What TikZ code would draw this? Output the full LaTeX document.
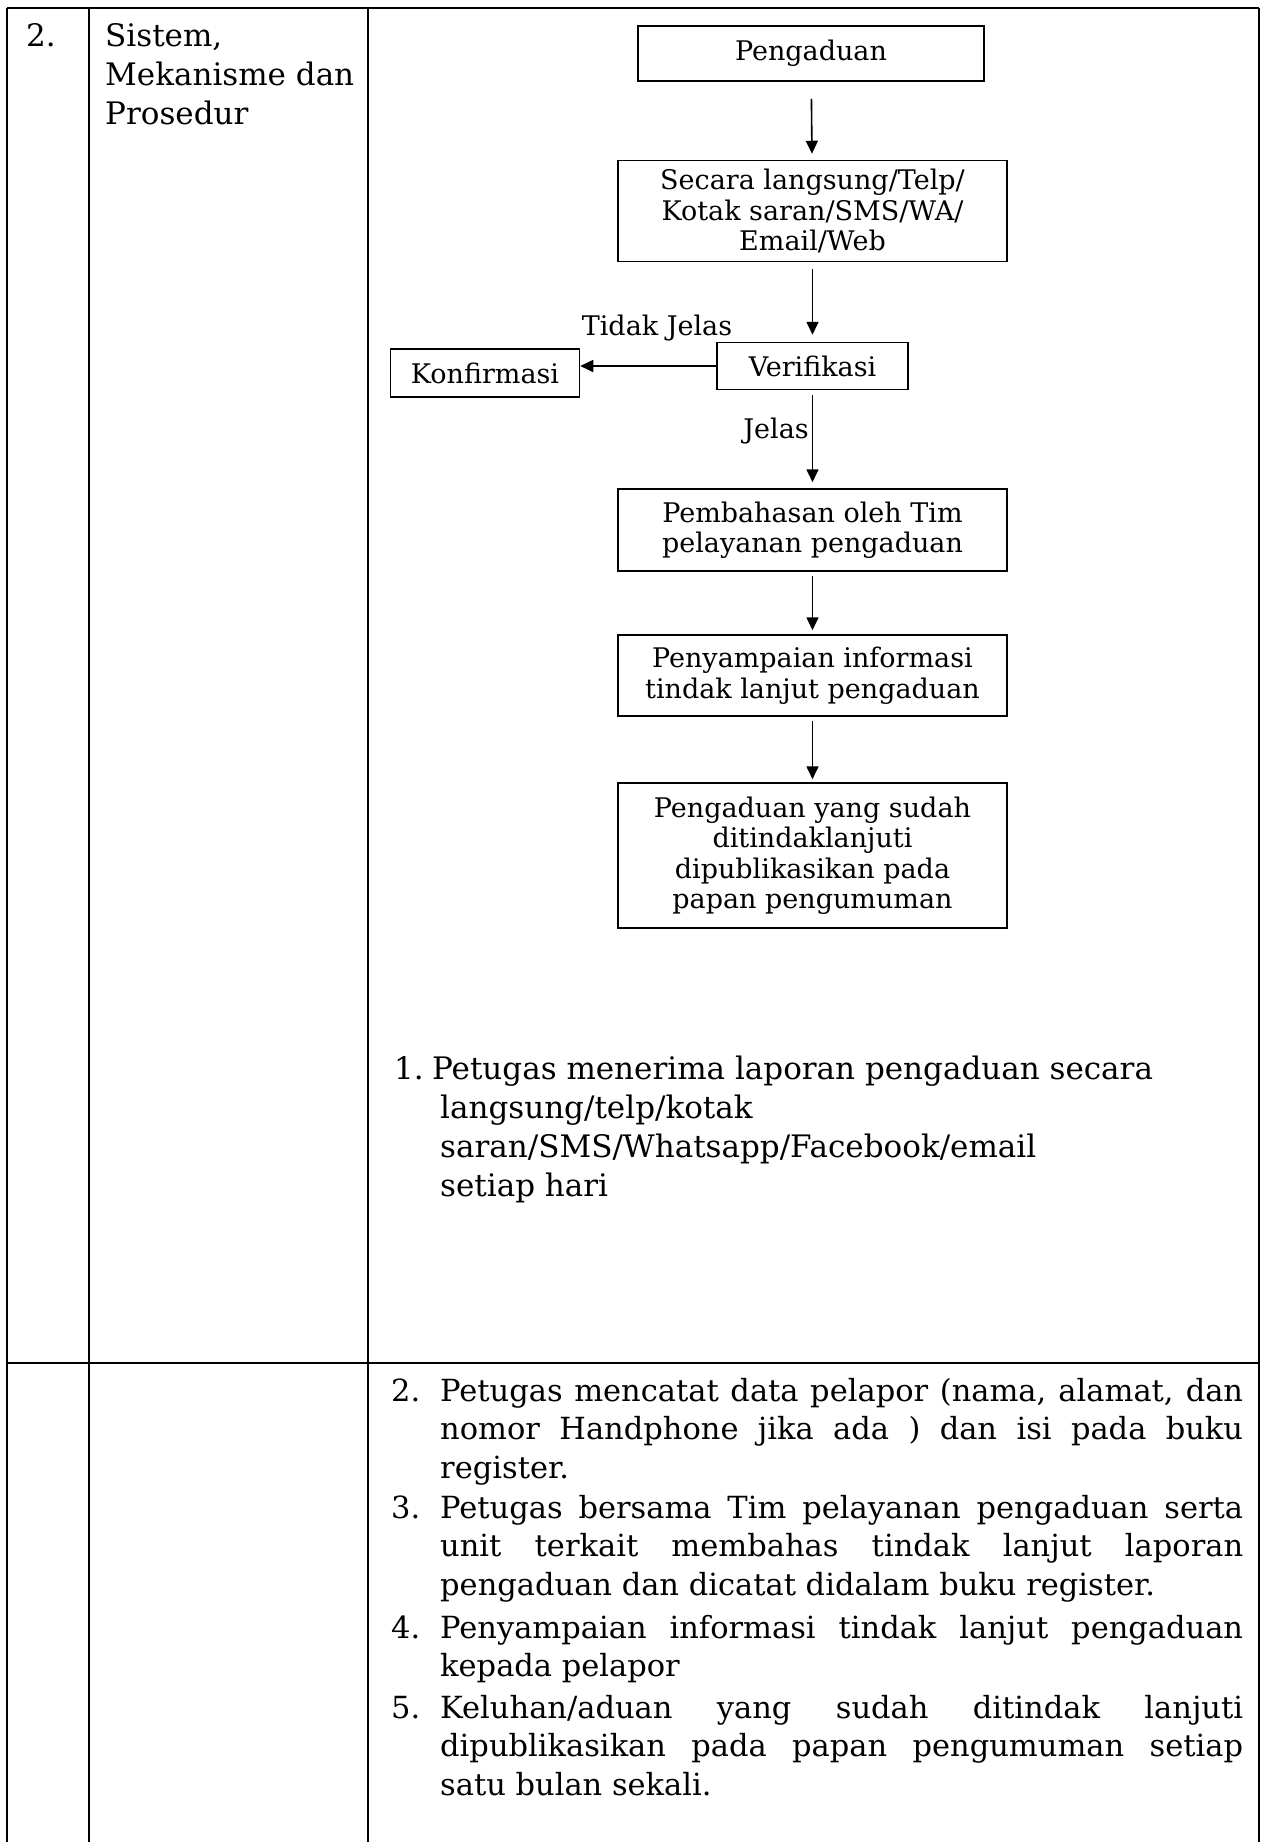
\documentclass[tikz,border=0pt]{standalone}
\usepackage{fontspec}
\setmainfont{DejaVu Serif}
\usetikzlibrary{arrows.meta,positioning,calc}

\tikzset{
  grid/.style={line width=1.3pt},
  flowbox/.style={draw, line width=1.5pt, align=center, inner sep=0pt,
    font=\fontsize{27}{30.5}\selectfont},
  flowlabel/.style={inner sep=0pt, font=\fontsize{27}{30.5}\selectfont},
  flowarrow/.style={-{Triangle[length=13pt,width=12pt]}, line width=1.6pt},
  cell/.style={inner sep=0pt, align=left, font=\fontsize{31}{39}\selectfont},
  listitem/.style={inner sep=0pt, anchor=base west, font=\fontsize{30.5}{38.5}\selectfont}
}
\newcommand{\steptext}[2]{\makebox[49pt][l]{#1}\parbox[t]{803pt}{\hyphenpenalty=10000\rightskip=0pt plus 0pt #2}}

\begin{document}
\begin{tikzpicture}[x=1pt,y=-1pt]
\useasboundingbox (0,0) rectangle (1261,1842);
% table rules
\foreach \x in {7,89,368,1259}
  \draw[grid] (\x,8) -- (\x,1842);
\foreach \y in {8,1363}
  \draw[grid] (7,\y) -- (1259,\y);
% first columns
\node[cell, anchor=north west] (num) at (26,23) {2.};
\node[cell, anchor=north west] (aspek) at (105,23) {Sistem,\\Mekanisme dan\\Prosedur};
% flowchart
\node[flowbox, minimum width=346pt, minimum height=55pt] (peng) at (811,53.5) {Pengaduan};
\node[flowbox, minimum width=389pt, minimum height=101pt] (media) at (812.5,211)
  {Secara langsung/Telp/\\Kotak saran/SMS/WA/\\Email/Web};
\node[flowbox, minimum width=191pt, minimum height=47pt] (verif) at (812.5,366) {Verifikasi};
\node[flowbox, minimum width=189pt, minimum height=48pt] (konf) at (485,373) {Konfirmasi};
\node[flowbox, minimum width=389pt, minimum height=82pt] (bahas) at (812.5,530)
  {Pembahasan oleh Tim\\pelayanan pengaduan};
\node[flowbox, minimum width=389pt, minimum height=81pt] (info) at (812.5,675.5)
  {Penyampaian informasi\\tindak lanjut pengaduan};
\node[flowbox, minimum width=389pt, minimum height=145pt] (publik) at (812.5,855.5)
  {Pengaduan yang sudah\\ditindaklanjuti\\dipublikasikan pada\\papan pengumuman};
\node[flowlabel] (tdk) at (657,328) {Tidak Jelas};
\node[flowlabel, anchor=east] (jls) at (809,431) {Jelas};
\draw[flowarrow, shorten <=17pt, shorten >=6pt] (peng) -- (media);
\draw[flowarrow, shorten <=7pt, shorten >=7pt] (media) -- (verif);
\draw[flowarrow] (verif.west) -- (verif.west -| konf.east);
\draw[flowarrow, shorten <=5pt, shorten >=6pt] (verif) -- (bahas);
\draw[flowarrow, shorten <=4pt, shorten >=4pt] (bahas) -- (info);
\draw[flowarrow, shorten <=4pt, shorten >=3pt] (info) -- (publik);
% steps
\node[cell, anchor=north west] (s1) at (394,1056)
  {\makebox[38pt][l]{1.}Petugas menerima laporan pengaduan secara\\
   \hspace*{46pt}langsung/telp/kotak\\
   \hspace*{46pt}saran/SMS/Whatsapp/Facebook/email\\
   \hspace*{46pt}setiap hari};
\node[listitem] (s2) at (391,1401)
  {\steptext{2.}{Petugas mencatat data pelapor (nama, alamat, dan\linebreak nomor Handphone jika ada ) dan isi pada buku\linebreak register.}};
\node[listitem] (s3) at (391,1518)
  {\steptext{3.}{Petugas bersama Tim pelayanan pengaduan serta\linebreak unit terkait membahas tindak lanjut laporan\linebreak pengaduan dan dicatat didalam buku register.}};
\node[listitem] (s4) at (391,1638)
  {\steptext{4.}{Penyampaian informasi tindak lanjut pengaduan\linebreak kepada pelapor}};
\node[listitem] (s5) at (391,1718)
  {\steptext{5.}{Keluhan/aduan yang sudah ditindak lanjuti\linebreak dipublikasikan pada papan pengumuman setiap\linebreak satu bulan sekali.}};
\end{tikzpicture}
\end{document}
